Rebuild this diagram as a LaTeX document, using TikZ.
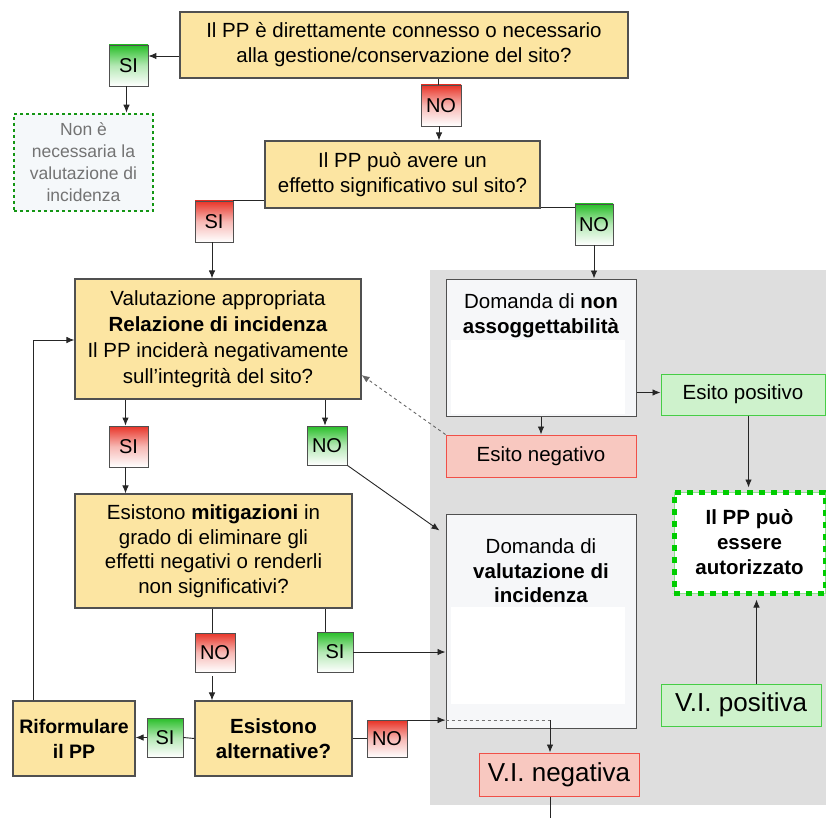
\documentclass[tikz,border=0pt]{standalone}
\usepackage{fontspec}
\setmainfont{Liberation Sans}
\usetikzlibrary{arrows.meta,calc}
\definecolor{yel}{RGB}{252,229,162}
\definecolor{bord}{RGB}{80,80,80}
\definecolor{labred}{RGB}{232,52,40}
\definecolor{labgreen}{RGB}{40,190,40}
\definecolor{bggray}{RGB}{222,222,222}
\definecolor{dotgreen}{RGB}{20,150,20}
\definecolor{dotfill}{RGB}{245,248,250}
\definecolor{negfill}{RGB}{248,200,192}
\definecolor{negbord}{RGB}{240,80,72}
\definecolor{posfill}{RGB}{206,242,204}
\definecolor{posbord}{RGB}{70,205,70}
\definecolor{ppagreen}{RGB}{0,205,0}
\definecolor{wfill}{RGB}{246,247,249}
\begin{document}
\begin{tikzpicture}[x=1pt,y=-1pt,
  ybox/.style={draw=bord, line width=1.1pt, fill=yel, align=center, inner sep=0pt, font=\fontsize{20.5}{25}\selectfont},
  lab/.style={draw=bord, line width=0.8pt, inner sep=0pt, font=\fontsize{20}{22}\selectfont},
  redlab/.style={lab, top color=labred, bottom color=white, middle color=labred!35},
  greenlab/.style={lab, top color=labgreen, bottom color=white, middle color=labgreen!35},
  dotbox/.style={draw=dotgreen, fill=dotfill, line width=2.5pt, dash pattern=on 3pt off 3pt, align=center, text=black!55, inner sep=0pt, font=\fontsize{17.5}{22}\selectfont},
  wbox/.style={draw=bord, line width=1pt, fill=wfill},
  negbox/.style={draw=negbord, line width=1pt, fill=negfill, inner sep=0pt, font=\fontsize{20.5}{24}\selectfont},
  posbox/.style={draw=posbord, line width=1pt, fill=posfill, inner sep=0pt, font=\fontsize{20.5}{24}\selectfont},
  ppabox/.style={draw=posbord!60, line width=1pt, fill=white, align=center, inner sep=0pt, font=\fontsize{20.5}{25}\selectfont\bfseries,
     postaction={draw=ppagreen, line width=5pt, dash pattern=on 6pt off 6pt}},
  txt/.style={align=center, inner sep=0pt, anchor=north, font=\fontsize{20.5}{24.5}\selectfont},
  ln/.style={line width=0.9pt, draw=black!85},
  arr/.style={ln, -{Latex[length=8pt,width=6.5pt]}}]
\useasboundingbox (0,0) rectangle (826,818);
\fill[bggray] (430,270) rectangle (826,805);

% top
\node[ybox, line width=1.5pt, minimum width=448pt, minimum height=66pt] (q1) at (404,45)
  {Il PP è direttamente connesso o necessario\\alla gestione/conservazione del sito?};
\node[greenlab, minimum width=39pt, minimum height=41pt] (si1) at (128.5,65.5) {SI};
\node[dotbox, minimum width=139pt, minimum height=97pt] (nonvi) at (83.5,162.5)
  {Non è\\necessaria la\\valutazione di\\incidenza};
\node[redlab, minimum width=40pt, minimum height=41pt] (no1) at (441,105.5) {NO};
\node[ybox, minimum width=275pt, minimum height=67pt] (q2) at (402.5,174.5)
  {Il PP può avere un\\effetto significativo sul sito?};
\node[redlab, minimum width=38pt, minimum height=41pt] (si2) at (214,221.5) {SI};
\node[greenlab, minimum width=38pt, minimum height=41pt] (no2) at (594,224.5) {NO};

% middle
\node[ybox, font=\fontsize{20.5}{26}\selectfont, minimum width=286pt, minimum height=120pt] (q3) at (218,339)
  {Valutazione appropriata\\\textbf{Relazione di incidenza}\\Il PP inciderà negativamente\\sull’integrità del sito?};
\node[wbox, minimum width=190pt, minimum height=137pt] (dnon) at (541,347.5) {};
\fill[white] (451,340) rectangle (625,414);
\node[txt] (dnont) at ([yshift=-15pt]dnon.north) {Domanda di \textbf{non}\\\textbf{assoggettabilità}};
\node[negbox, minimum width=190pt, minimum height=42pt] (eneg) at (541,456) {Esito negativo};
\node[posbox, minimum width=164pt, minimum height=41pt] (epos) at (743,394.5) {Esito positivo};
\node[ppabox, minimum width=151pt, minimum height=101pt] (ppa) at (749.5,542.5)
  {Il PP può\\essere\\autorizzato};
\node[redlab, minimum width=39pt, minimum height=41pt] (si3) at (128.5,446.5) {SI};
\node[greenlab, minimum width=40pt, minimum height=39pt] (no3) at (327,445.5) {NO};
\node[ybox, font=\fontsize{20.5}{24.5}\selectfont, minimum width=277pt, minimum height=114pt] (q4) at (213.5,551)
  {Esistono \textbf{mitigazioni} in\\grado di eliminare gli\\effetti negativi o renderli\\non significativi?};
\node[wbox, minimum width=190pt, minimum height=214pt] (dvi) at (541,621) {};
\fill[white] (451,607) rectangle (625,704);
\node[txt] (dvit) at ([yshift=-25pt]dvi.north) {Domanda di\\\textbf{valutazione di}\\\textbf{incidenza}};

% bottom
\node[greenlab, minimum width=36pt, minimum height=40pt] (si4) at (335,652) {SI};
\node[redlab, minimum width=40pt, minimum height=39pt] (no4) at (215,652.5) {NO};
\node[ybox, font=\fontsize{20.5}{25}\selectfont\bfseries, minimum width=157pt, minimum height=75pt] (alt) at (273.5,738.5)
  {Esistono\\alternative?};
\node[ybox, font=\fontsize{19.5}{25}\selectfont\bfseries, minimum width=122pt, minimum height=75pt] (rif) at (74,738.5)
  {Riformulare\\il PP};
\node[greenlab, minimum width=36pt, minimum height=39pt] (si5) at (165,737.5) {SI};
\node[redlab, minimum width=40pt, minimum height=37pt] (no5) at (387,739) {NO};
\node[posbox, font=\fontsize{26}{28}\selectfont, minimum width=160pt, minimum height=42pt] (vipos) at (741,705) {V.I. positiva};
\node[negbox, font=\fontsize{26}{28}\selectfont, minimum width=160pt, minimum height=43pt] (vineg) at (559,774.5) {V.I. negativa};
\coordinate (vend) at (550,818);

% connectors
\draw[arr] ([yshift=-11pt]q1.west) -- ([yshift=-11pt]q1.west -| si1.east);
\draw[arr] ([xshift=-2pt]si1.south) -- ([xshift=-2pt]si1.south |- nonvi.north);
\draw[ln] ([xshift=-3pt]no1.north |- q1.south) -- ([xshift=-3pt]no1.north);
\draw[arr] ([xshift=-2pt]no1.south) -- ([xshift=-2pt]no1.south |- q2.north);
\draw[ln] (si2.north east) -- (si2.north east -| q2.west);
\draw[arr] ([xshift=-2pt]si2.south) -- ([xshift=-2pt]si2.south |- q3.north);
\draw[ln] ([yshift=1pt]q2.south east) -- ([yshift=1pt]q2.south east -| no2.west);
\draw[arr] (no2.south) -- (no2.south |- dnon.north);
\draw[arr] ([xshift=-3pt]si3.north |- q3.south) -- ([xshift=-3pt]si3.north);
\draw[arr] ([xshift=-3pt]si3.south) -- ([xshift=-3pt]si3.south |- q4.north);
\draw[arr] ([xshift=-2pt]no3.north |- q3.south) -- ([xshift=-2pt]no3.north);
\draw[arr] (no3.south east) -- ([yshift=-17pt,xshift=-6pt]dvi.north west);
\draw[arr, dashed, draw=black!60] (eneg.north west) -- ([yshift=-36pt]q3.east);
\draw[arr] (dnon.south) -- (eneg.north);
\draw[arr] ([yshift=2pt]epos.west -| dnon.east) -- ([yshift=2pt]epos.west);
\draw[arr] ([xshift=-1pt]ppa.north |- epos.south) -- ([xshift=-1pt,yshift=4pt]ppa.north);
\draw[ln] ([xshift=-10pt]si4.north |- q4.south) -- ([xshift=-10pt]si4.north);
\draw[arr] (si4.east) -- (si4.east -| dvi.west);
\draw[ln] ([xshift=-3pt]no4.north |- q4.south) -- ([xshift=-3pt]no4.north);
\draw[arr] ([xshift=-3pt,yshift=-4pt]no4.south) -- ([xshift=-3pt]no4.south |- alt.north);
\draw[ln] (alt.west) -- (si5.east);
\draw[arr] (si5.west) -- (si5.west -| rif.east);
\draw[ln] (alt.east) -- (alt.east -| no5.west);
\draw[arr] (no5.north east) -- (no5.north east -| dvi.west);
\coordinate (vj) at ([xshift=-9pt]vineg.north |- no5.north east);
\draw[ln, dashed, draw=black!55] (no5.north east -| dvi.west) -- (vj);
\draw[arr] (vj) -- (vj |- vineg.north);
\draw[ln] (vj |- vineg.south) -- (vend);
\draw[arr] ([xshift=-41pt]rif.north) |- ([yshift=-1pt]q3.west);
\draw[arr] ([xshift=7pt]ppa.south |- vipos.north) -- ([xshift=7pt,yshift=-6pt]ppa.south);
\end{tikzpicture}
\end{document}
